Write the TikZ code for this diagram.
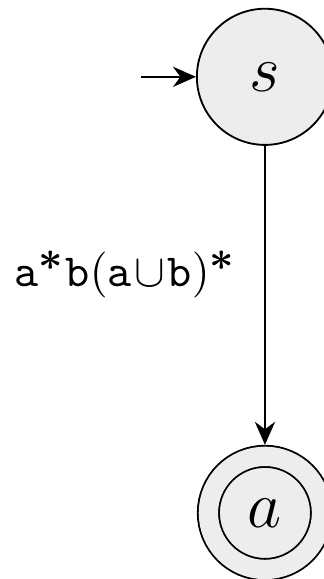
\documentclass[tikz,border=0pt]{standalone}
\usepackage{amsmath}
\usepackage{tikz}
\usetikzlibrary{arrows.meta,positioning}

\newcommand{\kstar}{^{\mbox{\small\boldmath$\ast$}}}

\begin{document}
\begin{tikzpicture}[
            node distance=65pt,
            state/.style={draw, circle, fill=black!7, inner sep=0pt,
            minimum size=29.6pt, font=\Large},
            accepting/.style={double=black!7, double distance=4.2pt,
            minimum size=24.6pt, outer sep=2.5pt},
            trans/.style={-{Stealth[length=5pt, width=4.4pt]}},
            edgelbl/.style={inner sep=0pt}
        ]
% --- fixed frame, same proportions as the reference ---
            \useasboundingbox (0pt,0pt) rectangle (70.43pt,-125.87pt);

% --- states ---
            \node[state]                          (s) at (57.6pt,-16.7pt) {$s$};
            \node[state, accepting, below=of s]   (a) {$a$};

% start arrow
            \coordinate[left=12pt of s.west]      (init);
            \draw[trans] (init) -- (s);

% the single transition
            \draw[trans] (s) -- node[edgelbl, left=6pt, pos=0.43]
                {$\texttt{a}\kstar\texttt{b}(\texttt{a}\mkern1mu{\cup}\mkern1mu\texttt{b})\kstar$} (a);
        \end{tikzpicture}
\end{document}
